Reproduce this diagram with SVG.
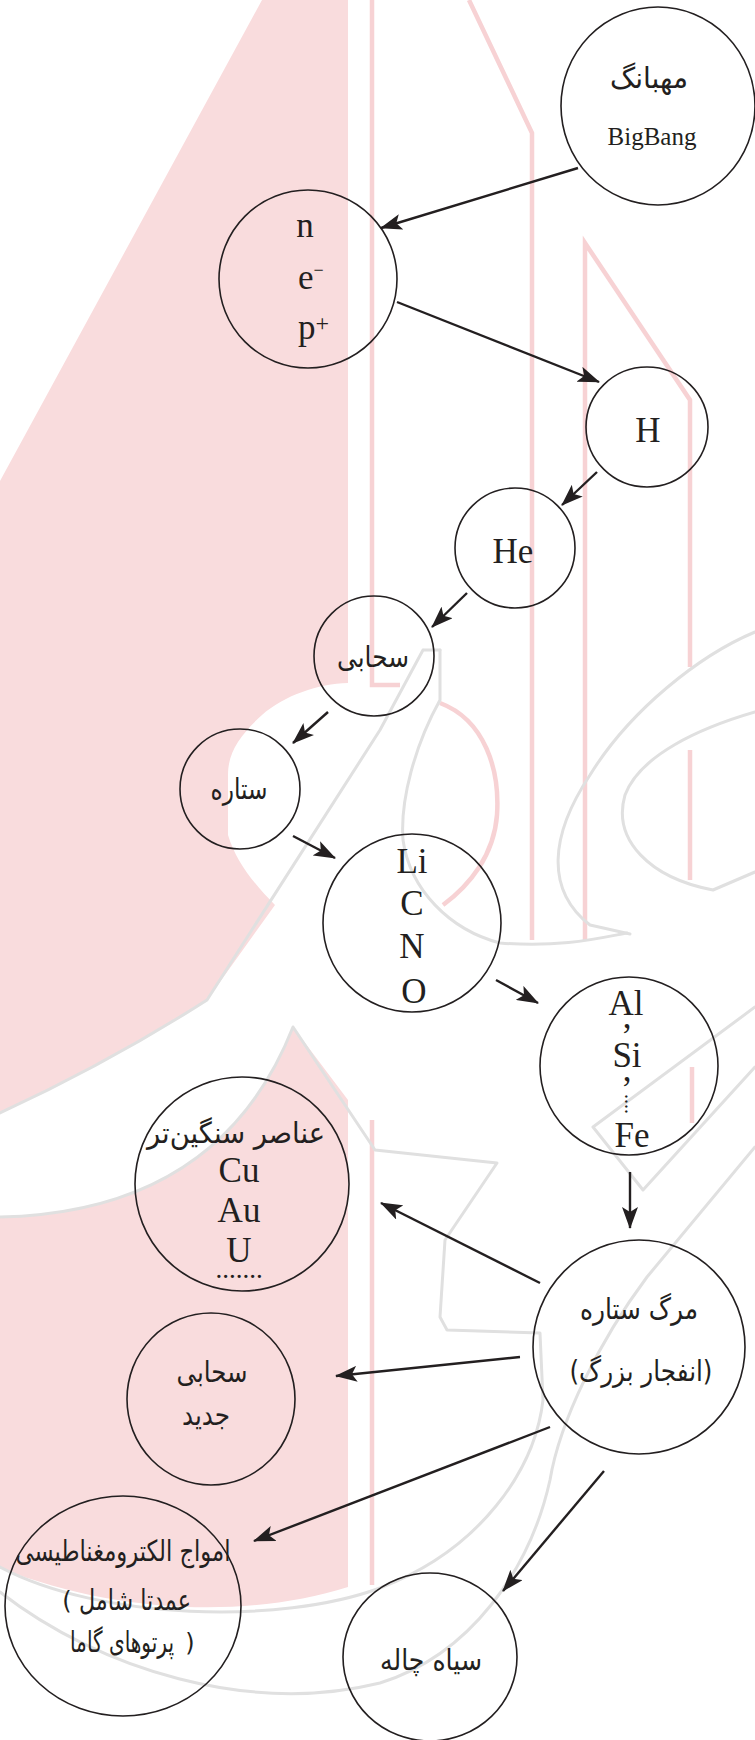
<svg xmlns="http://www.w3.org/2000/svg" width="755" height="1740" viewBox="0 0 755 1740">
<style>
.wm-fill{fill:#f9dcdd;stroke:none}
.wm-pink{fill:none;stroke:#f7d2d4;stroke-width:4.5}
.wm-grey{fill:none;stroke:#e0e0e0;stroke-width:3;stroke-linejoin:round;stroke-linecap:round}
.node{fill:none;stroke:#231f20;stroke-width:1.6}
.conn{fill:none;stroke:#231f20;stroke-width:2.4}
.lat{font-family:"Liberation Serif","Times New Roman",serif;fill:#231f20;text-anchor:middle;font-size:35px}
.fa{font-family:"DejaVu Sans","Noto Sans",sans-serif;fill:#231f20;text-anchor:middle;direction:rtl;font-size:29px}
.par{font-family:"DejaVu Sans","Noto Sans",sans-serif;fill:#231f20;text-anchor:middle;direction:ltr;font-size:24px}
</style>
<defs>
<marker id="ah" viewBox="0 0 22 16" refX="21" refY="8" markerWidth="22" markerHeight="16" markerUnits="userSpaceOnUse" orient="auto">
<path d="M0,0 L22,8 L0,16 L5,8 Z" fill="#231f20"/>
</marker>
</defs>
<rect x="0" y="0" width="755" height="1740" fill="#ffffff"/>
<g id="watermark">
<path class="wm-fill" d="M262,0 L348,0 L348,683 C318,684 285,695 262,715 C240,735 228,752 228,775 L228,835 C236,862 255,885 275,905 L207,1000 Q110,1062 0,1113 L0,481 Z"/>
<path class="wm-fill" d="M0,1217 Q220,1212 293,1027 L348,1100 L348,1587 C250,1618 120,1615 0,1568 Z"/>
<path class="wm-pink" d="M372,0 L372,685 L400,685"/>
<path class="wm-pink" d="M372,1120 L372,1585"/>
<path class="wm-pink" d="M469,0 L532,133 L532,940"/>
<path class="wm-pink" d="M585,940 L585,243 L690,400 L690,667"/>
<path class="wm-pink" d="M690,750 L690,880"/>
<path class="wm-pink" d="M692,1067 L692,1123"/>
<path class="wm-pink" d="M440,703 C485,720 500,770 497,815 C494,855 470,885 443,905"/>
<path class="wm-grey" d="M423,650 L440,650 M423,650 L380,730 L207,1000 Q110,1062 0,1113"/>
<path class="wm-grey" d="M440,650 L440,700 C415,745 400,800 403,840 C410,890 450,930 500,943 C560,948 600,938 627,933"/>
<path class="wm-grey" d="M755,632 C700,655 630,710 590,775 C550,835 545,890 590,925 L630,934"/>
<path class="wm-grey" d="M755,712 C700,728 640,755 625,795 C612,840 650,878 713,890 L755,872"/>
<path class="wm-grey" d="M755,1007 L593,1127 L643,1190 L755,1067"/>
<path class="wm-grey" d="M0,1217 Q220,1212 293,1027 L375,1150 L497,1163 L445,1240 L440,1317 L447,1330 L540,1333 L543,1400 C535,1470 480,1550 380,1588 C280,1625 100,1620 0,1567"/>
<path class="wm-grey" d="M755,1147 L647,1277 C600,1340 560,1420 550,1480 C530,1570 470,1655 380,1683 C250,1715 100,1670 0,1592"/>
</g>
<g id="connectors">
<line class="conn" x1="578" y1="168" x2="381" y2="228" marker-end="url(#ah)"/>
<line class="conn" x1="397" y1="302" x2="599" y2="382" marker-end="url(#ah)"/>
<line class="conn" x1="597" y1="472" x2="562" y2="505" marker-end="url(#ah)"/>
<line class="conn" x1="467" y1="593" x2="432" y2="627" marker-end="url(#ah)"/>
<line class="conn" x1="328" y1="712" x2="293" y2="743" marker-end="url(#ah)"/>
<line class="conn" x1="293" y1="836" x2="335" y2="858" marker-end="url(#ah)"/>
<line class="conn" x1="496" y1="980" x2="538" y2="1003" marker-end="url(#ah)"/>
<line class="conn" x1="630" y1="1172" x2="630" y2="1228" marker-end="url(#ah)"/>
<line class="conn" x1="540" y1="1283" x2="381" y2="1203" marker-end="url(#ah)"/>
<line class="conn" x1="520" y1="1357" x2="336" y2="1376" marker-end="url(#ah)"/>
<line class="conn" x1="550" y1="1427" x2="254" y2="1541" marker-end="url(#ah)"/>
<line class="conn" x1="604" y1="1471" x2="503" y2="1591" marker-end="url(#ah)"/>
</g>
<g id="node-bigbang">
<ellipse class="node" cx="658" cy="106" rx="97" ry="99"/>
<text class="fa" x="649" y="88" textLength="78" lengthAdjust="spacingAndGlyphs">مهبانگ</text>
<text class="lat" x="652" y="145" style="font-size:25px">BigBang</text>
</g>
<g id="node-particles">
<ellipse class="node" cx="308" cy="279" rx="89" ry="89"/>
<text class="lat" x="305" y="237">n</text>
<text class="lat" x="298" y="289" style="text-anchor:start">e<tspan style="font-size:18px" dy="-13">−</tspan></text>
<text class="lat" x="298" y="339" style="text-anchor:start">p<tspan style="font-size:24px" dy="-8">+</tspan></text>
</g>
<g id="node-h">
<ellipse class="node" cx="647" cy="427" rx="61" ry="60"/>
<text class="lat" x="648" y="442">H</text>
</g>
<g id="node-he">
<ellipse class="node" cx="515" cy="548" rx="60" ry="60"/>
<text class="lat" x="513" y="563">He</text>
</g>
<g id="node-nebula">
<ellipse class="node" cx="374" cy="656" rx="60" ry="60"/>
<text class="fa" x="373" y="667" textLength="72" lengthAdjust="spacingAndGlyphs">سحابی</text>
</g>
<g id="node-star">
<ellipse class="node" cx="240" cy="789" rx="60" ry="60"/>
<text class="fa" x="239" y="799" textLength="57" lengthAdjust="spacingAndGlyphs">ستاره</text>
</g>
<g id="node-licno">
<ellipse class="node" cx="412" cy="923" rx="89" ry="89"/>
<text class="lat" x="412" y="873">Li</text>
<text class="lat" x="412" y="915">C</text>
<text class="lat" x="412" y="958">N</text>
<text class="lat" x="414" y="1003">O</text>
</g>
<g id="node-alsife">
<ellipse class="node" cx="629" cy="1066" rx="89" ry="89"/>
<text class="lat" x="626" y="1015">Al</text>
<text class="lat" x="627" y="1028">,</text>
<text class="lat" x="627" y="1067">Si</text>
<text class="lat" x="627" y="1081">,</text>
<text class="lat" style="font-size:20px" transform="translate(625,1104) rotate(90)" x="0" y="0">....</text>
<text class="lat" x="632" y="1147">Fe</text>
</g>
<g id="node-heavy">
<ellipse class="node" cx="242" cy="1184" rx="107" ry="107"/>
<text class="fa" x="236" y="1143" textLength="178" lengthAdjust="spacingAndGlyphs">عناصر سنگین‌تر</text>
<text class="lat" x="239" y="1182">Cu</text>
<text class="lat" x="239" y="1222">Au</text>
<text class="lat" x="239" y="1262">U</text>
<text class="lat" x="239" y="1278" style="font-size:27px">.......</text>
</g>
<g id="node-stardeath">
<ellipse class="node" cx="639" cy="1347" rx="106" ry="107"/>
<text class="fa" x="639" y="1319" textLength="118" lengthAdjust="spacingAndGlyphs">مرگ ستاره</text>
<text class="fa" x="641" y="1381" textLength="143" lengthAdjust="spacingAndGlyphs">(انفجار بزرگ)</text>
</g>
<g id="node-newnebula">
<ellipse class="node" cx="211" cy="1399" rx="84" ry="86"/>
<text class="fa" x="212" y="1382" textLength="71" lengthAdjust="spacingAndGlyphs">سحابی</text>
<text class="fa" x="206" y="1425" textLength="48" lengthAdjust="spacingAndGlyphs">جدید</text>
</g>
<g id="node-em">
<ellipse class="node" cx="123" cy="1606" rx="118" ry="110"/>
<text class="fa" x="123" y="1561" textLength="215" lengthAdjust="spacingAndGlyphs">امواج الکترومغناطیسی</text>
<text class="par" x="67" y="1609">(</text>
<text class="fa" x="135" y="1610" textLength="112" lengthAdjust="spacingAndGlyphs">عمدتا شامل</text>
<text class="fa" x="122" y="1652" textLength="104" lengthAdjust="spacingAndGlyphs">پرتوهای  گاما</text>
<text class="par" x="190" y="1651">)</text>
</g>
<g id="node-blackhole">
<ellipse class="node" cx="430" cy="1657" rx="87" ry="84"/>
<text class="fa" x="431" y="1670" textLength="102" lengthAdjust="spacingAndGlyphs">سیاه چاله</text>
</g>
</svg>
